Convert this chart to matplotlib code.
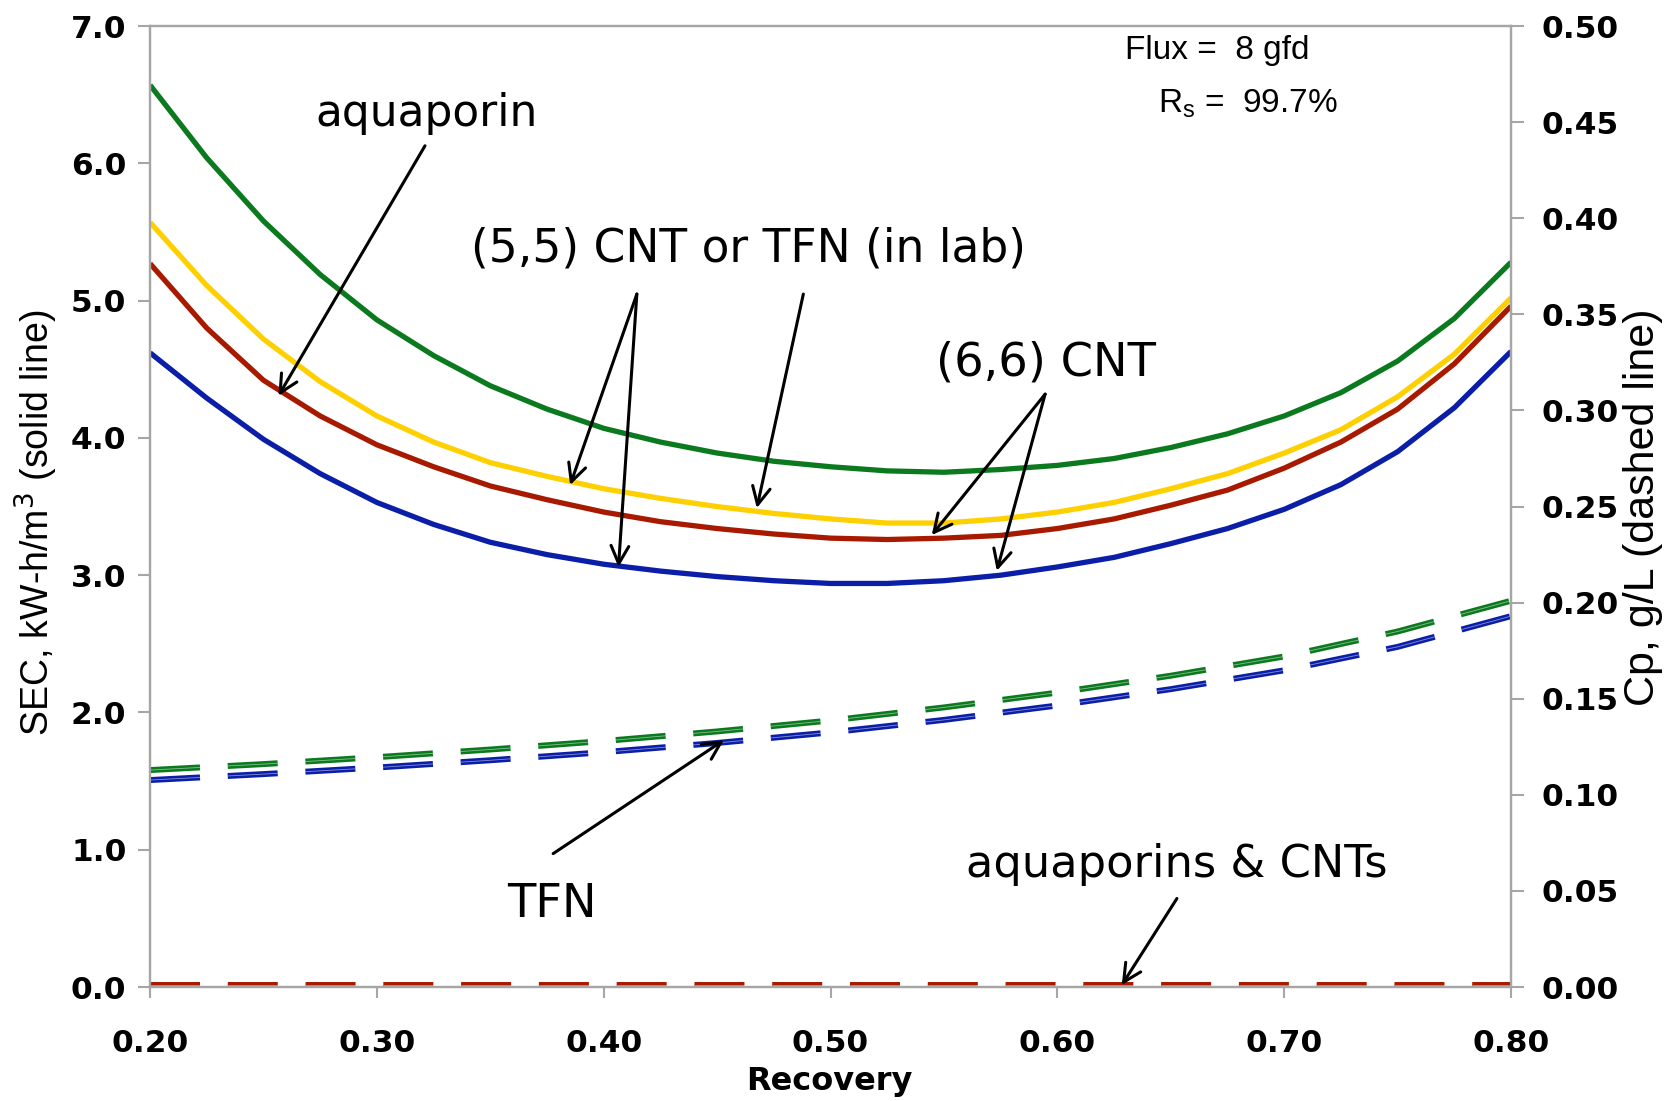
import matplotlib
matplotlib.use('Agg')
import matplotlib.pyplot as plt
from matplotlib import font_manager

# recovery (x axis) for the SEC curves
recovery = [0.200, 0.225, 0.250, 0.275, 0.300, 0.325, 0.350, 0.375, 0.400, 0.425, 0.450, 0.475, 0.500,
            0.525, 0.550, 0.575, 0.600, 0.625, 0.650, 0.675, 0.700, 0.725, 0.750, 0.775, 0.800]

# SEC, kW-h/m3 (solid lines, left axis)
sec_green = [6.57, 6.04, 5.58, 5.19, 4.86, 4.60, 4.38, 4.21, 4.07, 3.97, 3.89, 3.83, 3.79,
             3.76, 3.75, 3.77, 3.80, 3.85, 3.93, 4.03, 4.16, 4.33, 4.56, 4.87, 5.28]
sec_yellow = [5.57, 5.11, 4.72, 4.41, 4.16, 3.97, 3.82, 3.72, 3.63, 3.56, 3.50, 3.45, 3.41,
              3.38, 3.38, 3.41, 3.46, 3.53, 3.63, 3.74, 3.89, 4.06, 4.30, 4.61, 5.02]
sec_red = [5.27, 4.80, 4.42, 4.16, 3.95, 3.79, 3.65, 3.55, 3.46, 3.39, 3.34, 3.30, 3.27,
           3.26, 3.27, 3.29, 3.34, 3.41, 3.51, 3.62, 3.78, 3.97, 4.21, 4.54, 4.96]
sec_blue = [4.62, 4.29, 3.99, 3.74, 3.53, 3.37, 3.24, 3.15, 3.08, 3.03, 2.99, 2.96, 2.94,
            2.94, 2.96, 3.00, 3.06, 3.13, 3.23, 3.34, 3.48, 3.66, 3.90, 4.22, 4.63]

# Cp, g/L (dashed lines, right axis)
recovery_cp = [0.20, 0.25, 0.30, 0.35, 0.40, 0.45, 0.50, 0.55, 0.60, 0.65, 0.70, 0.75, 0.80]
cp_green = [0.1129, 0.1160, 0.1196, 0.1236, 0.1280, 0.1330, 0.1387, 0.1455, 0.1532, 0.1620, 0.1720, 0.1850, 0.2010]
cp_blue = [0.1077, 0.1108, 0.1142, 0.1180, 0.1222, 0.1270, 0.1325, 0.1390, 0.1465, 0.1550, 0.1648, 0.1770, 0.1930]
cp_red = [0.001, 0.001, 0.001, 0.001, 0.001, 0.001, 0.001, 0.001, 0.001, 0.001, 0.001, 0.001, 0.001]

x_ticks = [0.2, 0.3, 0.4, 0.5, 0.6, 0.7, 0.8]
sec_ticks = [0, 1, 2, 3, 4, 5, 6, 7]
cp_ticks = [0.0, 0.05, 0.10, 0.15, 0.20, 0.25, 0.30, 0.35, 0.40, 0.45, 0.50]

green = '#0b7a1e'
yellow = '#ffd000'
red = '#a81a00'
blue = '#0a1ea8'
axis_grey = '#a6a6a6'

plt.rcParams['lines.scale_dashes'] = False

names = {f.name for f in font_manager.fontManager.ttflist}
if 'Liberation Sans Narrow' in names:
    label_font, left_size, right_size = 'Liberation Sans Narrow', 31, 35
else:
    label_font, left_size, right_size = 'Liberation Sans', 27, 31

fig = plt.figure(figsize=(16.73, 11.01), dpi=100)
ax = fig.add_axes([0.0897, 0.1035, 0.8135, 0.8728])
ax2 = ax.twinx()

# solid SEC curves
for vals, col in [(sec_green, green), (sec_yellow, yellow), (sec_red, red), (sec_blue, blue)]:
    ax.plot(recovery, vals, color=col, lw=3.8, solid_capstyle='butt', solid_joinstyle='round')

# dashed Cp curves
dash = (36, 20)
for vals, col in [(cp_green, green), (cp_blue, blue), (cp_red, red)]:
    ax2.plot(recovery_cp, vals, color=col, lw=4.3, dashes=dash, dash_capstyle='butt', clip_on=False)
    ax2.plot(recovery_cp, vals, color='white', lw=0.6, alpha=0.5, dashes=dash, dash_capstyle='butt', clip_on=False)

ax.set_xlim(0.2, 0.8)
ax.set_ylim(0, 7)
ax2.set_ylim(0, 0.5)

ax.set_xticks(x_ticks)
ax.set_xticklabels([f'{v:.2f}' for v in x_ticks])
ax.set_yticks(sec_ticks)
ax.set_yticklabels([f'{v:.1f}' for v in sec_ticks])
ax2.set_yticks(cp_ticks)
ax2.set_yticklabels([f'{v:.2f}' for v in cp_ticks])

for a in (ax, ax2):
    for s in a.spines.values():
        s.set_color(axis_grey)
        s.set_linewidth(1.6)
    for lab in a.get_xticklabels() + a.get_yticklabels():
        lab.set_fontfamily('DejaVu Sans')
        lab.set_fontweight('bold')
        lab.set_fontsize(22.5)

ax.tick_params(axis='x', direction='out', length=8, width=1.5, color=axis_grey, pad=22)
ax.tick_params(axis='y', direction='out', length=9, width=1.5, color=axis_grey, pad=8)
ax2.tick_params(axis='y', direction='out', length=9, width=1.5, color=axis_grey, pad=13)

fig.text(0.022, 0.525, 'SEC, kW-h/m$^{3}$ (solid line)', rotation=90, ha='center', va='center',
         family=label_font, fontsize=left_size)
fig.text(0.982, 0.5395, 'Cp, g/L (dashed line)', rotation=90, ha='center', va='center',
         family=label_font, fontsize=right_size)
fig.text(0.496, 0.0100, 'Recovery', ha='center', va='baseline', family='DejaVu Sans',
         fontweight='bold', fontsize=23)

fig.text(0.6725, 0.9461, 'Flux =  8 gfd', ha='left', va='baseline', family='Liberation Sans', fontsize=24)
fig.text(0.6922, 0.8976, 'R$_\\mathregular{s}$ =  99.7%', ha='left', va='baseline', family='Liberation Sans',
         fontsize=24)

# labels and arrows (left-axis data coordinates)
tr = ax.transData
label_kw = dict(ha='center', va='baseline', family='DejaVu Sans', transform=tr, zorder=5)
ax2.text(0.3221, 6.27, 'aquaporin', fontsize=31.6, **label_kw)
ax2.text(0.4639, 5.283, '(5,5) CNT or TFN (in lab)', fontsize=32.8, **label_kw)
ax2.text(0.5948, 4.458, '(6,6) CNT', fontsize=33.4, **label_kw)
ax2.text(0.377, 0.512, 'TFN', fontsize=33.4, **label_kw)
ax2.text(0.6525, 0.801, 'aquaporins & CNTs', fontsize=32.2, **label_kw)

arrows = [
    ((0.3212, 6.128), (0.2566, 4.307)),
    ((0.4146, 5.048), (0.3852, 3.657)),
    ((0.4146, 5.048), (0.4065, 3.059)),
    ((0.4880, 5.048), (0.4675, 3.489)),
    ((0.5946, 4.319), (0.5446, 3.292)),
    ((0.5946, 4.319), (0.5733, 3.032)),
    ((0.3777, 0.972), (0.4530, 1.799)),
    ((0.6527, 0.645), (0.6284, 0.015)),
]
for tail, head in arrows:
    ax2.annotate('', xy=head, xytext=tail, xycoords=tr, textcoords=tr,
                 arrowprops=dict(arrowstyle='->', lw=2.2, color='black', mutation_scale=32,
                                 shrinkA=0, shrinkB=0), zorder=6)

fig.savefig('out.png', dpi=100)
